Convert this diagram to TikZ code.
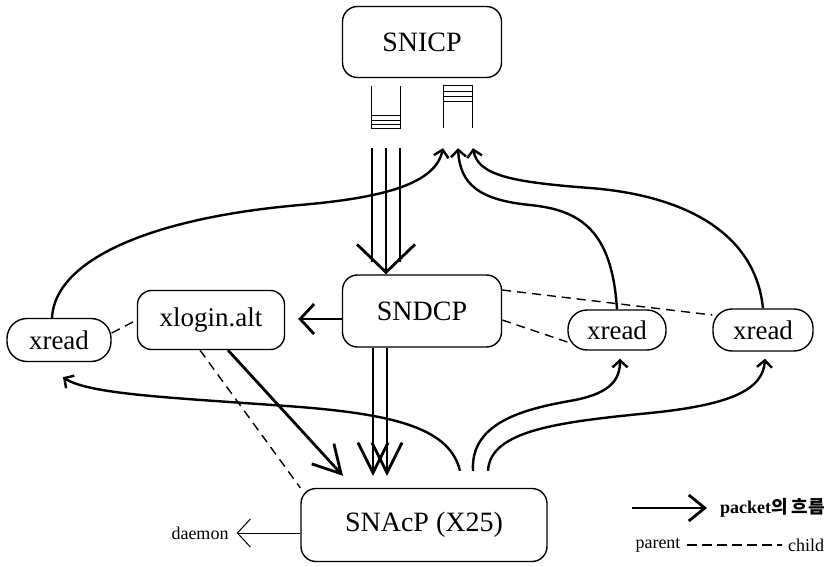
\documentclass[tikz,border=0pt]{standalone}
\usepackage{fontspec}
\setmainfont{Liberation Serif}
\newfontfamily\kofont{Noto Sans CJK KR}
\usepackage{tikz}
\usetikzlibrary{
  arrows.meta,
  positioning
}
\tikzset{
    procbox/.style={draw, line width=1.4pt, rounded corners=15pt, inner sep=0pt,
        font=\fontsize{28}{32}\selectfont},
    readbox/.style={draw, line width=1.4pt, rounded corners=14pt, inner sep=0pt,
        font=\fontsize{27}{30}\selectfont},
    queue/.style={minimum width=29pt, minimum height=42pt, inner sep=0pt},
    qline/.style={line width=1.2pt},
    flow/.style={line width=2.8pt, -{Straight Barb[length=30pt, width=30pt]}},
    curveflow/.style={line width=2.4pt, -{Straight Barb[length=7pt, width=15pt]}},
    family/.style={line width=1.4pt, dash pattern=on 9pt off 6pt},
    smalltext/.style={font=\fontsize{18}{20}\selectfont, inner sep=3pt}
}

\begin{document}
\begin{tikzpicture}[x=1pt, y=-1pt]
    \useasboundingbox (0,0) rectangle (838,567);
    % processes
    \node[procbox, minimum width=159pt, minimum height=71pt] (snicp) at (422,42) {SNICP};
    \node[procbox, minimum width=159pt, minimum height=72pt] (sndcp) at (422,311) {SNDCP};
    \node[procbox, minimum width=246pt, minimum height=73pt] (snacp) at (424,525) {SNAcP (X25)};
    \node[readbox, minimum width=147pt, minimum height=59pt] (xlogin) at (211,320) {xlogin.alt};
    \node[readbox, rounded corners=20pt, minimum width=104pt, minimum height=43pt] (xrl) at (59,340) {xread};
    \node[readbox, rounded corners=19pt, minimum width=98pt, minimum height=40pt] (xrm) at (617,330) {xread};
    \node[readbox, rounded corners=19pt, minimum width=100pt, minimum height=42pt] (xrr) at (763,330) {xread};

    % queues under SNICP
    \node[queue] (qin) at (386,107) {};
    \node[queue] (qout) at (458,107) {};
    \draw[qline] (qin.north west) -- (qin.south west) -- (qin.south east) -- (qin.north east);
    \foreach \h in {4,8,13}
        \draw[qline] ([yshift=\h pt]qin.south west) -- ([yshift=\h pt]qin.south east);
    \draw[qline] (qout.south west) -- (qout.north west) -- (qout.north east) -- (qout.south east);
    \foreach \h in {6,11,16}
        \draw[qline] ([yshift=-\h pt]qout.north west) -- ([yshift=-\h pt]qout.north east);

    % packets down
    \draw[flow, -{Straight Barb[length=28pt, width=58pt]}] ([yshift=-20pt]qin.south) -- (qin.south |- sndcp.north);
    \foreach \s in {-14,14}
        \draw[line width=2.8pt] ([xshift=\s pt, yshift=-20pt]qin.south) -- ++(0,114);
    \draw[flow] ([xshift=-49pt]sndcp.south) -- ([xshift=-51pt, yshift=12pt]snacp.north);
    \draw[flow] ([xshift=-35pt]sndcp.south) -- ([xshift=-37pt, yshift=12pt]snacp.north);
    \draw[flow, -{Straight Barb[length=14pt, width=30pt]}] ([yshift=-8pt]sndcp.west) -- ([xshift=13pt, yshift=1pt]xlogin.east);
    \draw[flow, -{Straight Barb[length=27pt, width=30pt]}] ([xshift=17pt]xlogin.south) -- ([xshift=-81pt, yshift=12pt]snacp.north);

    % packets up
    \coordinate (in1) at ([xshift=-15pt, yshift=-20pt]qout.south);
    \coordinate (in2) at ([yshift=-20pt]qout.south);
    \coordinate (in3) at ([xshift=15pt, yshift=-20pt]qout.south);
    \draw[curveflow] ([xshift=-7pt]xrl.north) .. controls (55,260) and (150,218) .. (300,205)
        .. controls (380,198) and (435,185) .. (in1);
    \draw[curveflow] (xrm.north) .. controls (612,230) and (580,210) .. (530,205)
        .. controls (480,200) and (460,185) .. (in2);
    \draw[curveflow] (xrr.north) .. controls (755,230) and (680,195) .. (590,188)
        .. controls (510,182) and (478,175) .. (in3);

    % from SNAcP to the readers
    \coordinate (out1) at ([xshift=36pt, yshift=17pt]snacp.north);
    \coordinate (out2) at ([xshift=49pt, yshift=17pt]snacp.north);
    \coordinate (out3) at ([xshift=64pt, yshift=17pt]snacp.north);
    \draw[curveflow] (out1) .. controls (450,430) and (400,415) .. (300,407)
        .. controls (180,398) and (90,395) .. ([xshift=4pt, yshift=-15pt]xrl.south);
    \draw[curveflow] (out2) .. controls (470,420) and (530,408) .. (575,400)
        .. controls (610,393) and (620,380) .. ([xshift=3pt, yshift=-8pt]xrm.south);
    \draw[curveflow] (out3) .. controls (490,430) and (560,422) .. (650,413)
        .. controls (730,405) and (763,390) .. ([xshift=2pt, yshift=-7pt]xrr.south);

    % parent - child
    \draw[family] ([yshift=7pt]xrl.east) -- (xlogin.west);
    \draw[family] ([xshift=-11pt]xlogin.south) -- (snacp.north west);
    \draw[family] ([yshift=-9pt]sndcp.east) -- ([yshift=-12pt]xrm.west);
    \draw[family] ([yshift=21pt]sndcp.east) -- ([yshift=15pt]xrr.west);

    % daemon
    \node[smalltext, inner xsep=8pt] (daemon) at (200,533) {daemon};
    \draw[line width=1pt, -{Straight Barb[length=13pt, width=28pt]}] ([yshift=-8pt]snacp.west) -- (daemon);

    % legend
    \node[anchor=west, inner sep=0pt, font=\fontsize{18}{20}\selectfont\bfseries] (lgflow) at (720,508) {packet{\kofont 의 흐름}};
    \coordinate (lgstart) at (632,508);
    \draw[flow, -{Straight Barb[length=16pt, width=26pt]}] (lgstart) -- ([xshift=-13pt]lgflow.west);
    \node[smalltext, inner xsep=6pt] (lgparent) at (658,545) {parent};
    \node[smalltext, inner xsep=6pt] (lgchild) at (806,545) {child};
    \draw[family, dash pattern=on 10pt off 5pt] (lgparent) -- (lgchild);
\end{tikzpicture}
\end{document}
